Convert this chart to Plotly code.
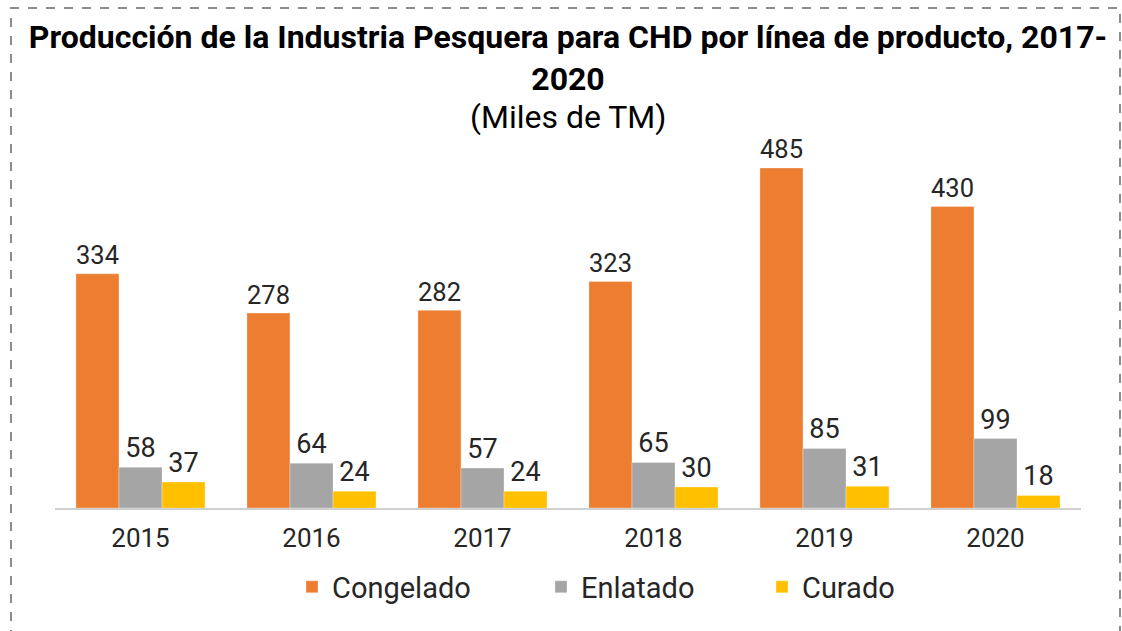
import plotly.graph_objects as go

years = ["2015", "2016", "2017", "2018", "2019", "2020"]
congelado = [334, 278, 282, 323, 485, 430]
enlatado = [58, 64, 57, 65, 85, 99]
curado = [37, 24, 24, 30, 31, 18]

series = [
    ("Congelado", congelado, "#ED7D31", "legend"),
    ("Enlatado", enlatado, "#A5A5A5", "legend2"),
    ("Curado", curado, "#FFC000", "legend3"),
]

W, H = 1122, 631
ML, MR, MT, MB = 55, 41, 140, 123
pw = W - ML - MR
ph = H - MT - MB

fig = go.Figure()
for name, vals, color, lg in series:
    fig.add_trace(go.Bar(
        x=years, y=vals, name=name,
        marker=dict(color=color, line=dict(color="rgba(255,255,255,0.6)", width=0.5)),
        text=vals, textposition="outside", cliponaxis=False,
        textfont=dict(family="Roboto", size=27, color="#262626"),
        legend=lg, showlegend=True,
    ))

def px_x(px):
    return (px - ML) / pw

def px_y(py):
    return (H - MB - py) / ph

legend_common = dict(
    orientation="h", yanchor="middle", xanchor="left",
    font=dict(family="Roboto", size=29, color="#262626"),
    bgcolor="rgba(0,0,0,0)",
)
fig.update_layout(
    width=W, height=H,
    margin=dict(l=ML, r=MR, t=MT, b=MB),
    paper_bgcolor="white", plot_bgcolor="white",
    barmode="group", bargap=0.245, bargroupgap=0,
    showlegend=True,
    title=dict(
        text="<b>Producción de la Industria Pesquera para CHD por línea de producto, 2017-<br>2020</b>",
        font=dict(family="Roboto", size=32, color="#000000"),
        x=0.5, xref="paper", xanchor="center",
        y=1 - 48 / H, yref="container", yanchor="top",
    ),
    legend=dict(legend_common, x=px_x(292), y=px_y(587)),
    legend2=dict(legend_common, x=px_x(541), y=px_y(587)),
    legend3=dict(legend_common, x=px_x(762), y=px_y(587)),
    xaxis=dict(
        showline=True, linecolor="#D0D0D0", linewidth=2,
        showgrid=False, ticks="", ticklabelstandoff=6,
        tickfont=dict(family="Roboto", size=26, color="#262626"),
    ),
    yaxis=dict(
        range=[0, ph / 0.701], visible=False, showgrid=False, zeroline=False,
    ),
    annotations=[
        dict(
            text="(Miles de TM)", xref="paper", yref="paper",
            x=0.5, y=px_y(117), xanchor="center", yanchor="middle",
            showarrow=False, font=dict(family="Roboto", size=32, color="#000000"),
        ),
    ],
    shapes=[dict(
        type="rect", xref="paper", yref="paper",
        x0=px_x(11), x1=px_x(1120), y0=px_y(660), y1=px_y(8),
        line=dict(color="#8C8C8C", width=2, dash="dash"),
        fillcolor="rgba(0,0,0,0)", layer="below",
    )],
)

fig.write_html("out.html", config={"displayModeBar": False},
               post_script="document.body.style.margin='0px';")
